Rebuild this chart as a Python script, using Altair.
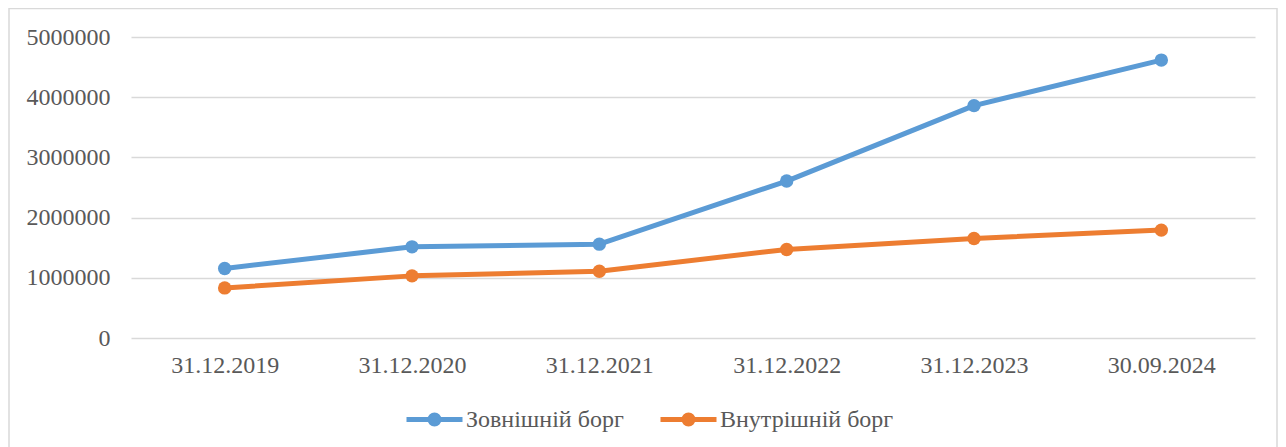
import altair as alt
import pandas as pd

dates = ["31.12.2019", "31.12.2020", "31.12.2021", "31.12.2022", "31.12.2023", "30.09.2024"]
external = [1155000, 1514000, 1559000, 2607000, 3860000, 4616000]
internal = [832000, 1032000, 1110000, 1471000, 1654000, 1792000]
series_names = ["Зовнішній борг", "Внутрішній борг"]
colors = ["#5B9BD5", "#ED7D31"]

rows = []
for d, v in zip(dates, external):
    rows.append({"date": d, "value": v, "series": series_names[0]})
for d, v in zip(dates, internal):
    rows.append({"date": d, "value": v, "series": series_names[1]})
df = pd.DataFrame(rows)

FONT = "Liberation Serif"
FS = 24
W, H = 1124, 301
PL, PT, PR, PB = 123, 29, 23, 109

legend_path = ("M -1 0 L 1 0 M 0.16 0 A 0.16 0.16 0 1 1 -0.16 0 "
               "A 0.16 0.16 0 1 1 0.16 0 Z")

x = alt.X("date:N", sort=dates, title=None,
          scale=alt.Scale(paddingInner=0, paddingOuter=0),
          axis=alt.Axis(labelAngle=0, labelPadding=15, ticks=False,
                        domain=False, grid=False))
y = alt.Y("value:Q", title=None,
          scale=alt.Scale(domain=[0, 5000000], nice=False),
          axis=alt.Axis(values=[0, 1000000, 2000000, 3000000, 4000000, 5000000],
                        format="d", labelPadding=21, ticks=False,
                        domain=False, gridColor="#d9d9d9", gridWidth=1.4))
color = alt.Color("series:N", sort=series_names, title=None,
                  scale=alt.Scale(domain=series_names, range=colors),
                  legend=alt.Legend(orient="none", direction="horizontal",
                                    legendX=273, legendY=352,
                                    symbolType=legend_path, symbolSize=3136,
                                    symbolStrokeWidth=5, symbolOpacity=1,
                                    labelOffset=1, columnPadding=26,
                                    labelLimit=400))

base = alt.Chart(df)
lines = base.mark_line(strokeWidth=5, strokeCap="round", strokeJoin="round").encode(
    x=x, y=y, color=color)
points = base.mark_point(filled=True, size=180, opacity=1).encode(
    x=x, y=y, color=color)

border = alt.Chart(pd.DataFrame({"a": [0]})).mark_rect(
    fill=None, stroke="#d9d9d9", strokeWidth=1.5).encode(
    x=alt.value(1 - PL), x2=alt.value(1269 - PL),
    y=alt.value(0.5 - PT), y2=alt.value(460 - PT))

chart = alt.layer(border, lines, points).properties(
    width=W, height=H,
    autosize=alt.AutoSizeParams(type="none"),
    padding={"left": PL, "top": PT, "right": PR, "bottom": PB},
    background="white",
).configure(font=FONT).configure_view(stroke=None).configure_axis(
    labelFont=FONT, labelFontSize=FS, labelColor="#595959"
).configure_legend(
    labelFont=FONT, labelFontSize=FS, labelColor="#595959"
)

chart.save("out.html", embed_options={"renderer": "svg", "actions": False})
